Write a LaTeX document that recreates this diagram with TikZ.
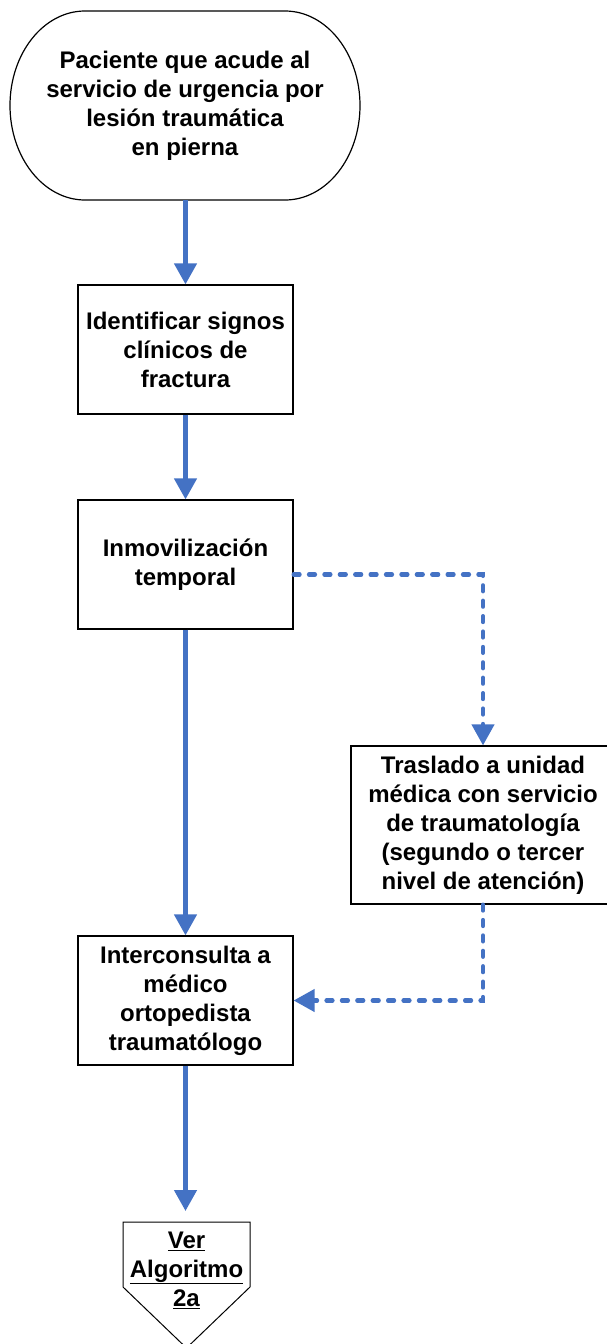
\documentclass[tikz,border=0pt]{standalone}
\usepackage{fontspec}
\setmainfont{Liberation Sans}
\usetikzlibrary{arrows.meta}
\definecolor{flowblue}{RGB}{68,114,196}
\begin{document}
\begin{tikzpicture}[x=1pt,y=-1pt,
  txt/.style={inner sep=0pt, font=\bfseries\fontsize{24}{29}\selectfont, align=center},
  box/.style={txt, draw=black, line width=1.2pt, rectangle},
  solidarrow/.style={draw=flowblue, line width=4.5pt, -{Triangle[width=22pt,length=21pt]}},
  dasharrow/.style={draw=flowblue, line width=4.2pt, line cap=round, dash pattern=on 6pt off 9.4pt, -{Triangle[width=22pt,length=21pt]}}]
\useasboundingbox (0,0) rectangle (606,1344);
% terminal
\draw[line width=1.2pt] (85,11) -- (285,11) arc[start angle=90,end angle=-90,x radius=75,y radius=-94.5] -- (85,200) arc[start angle=270,end angle=90,x radius=75,y radius=-94.5] -- cycle;
\node[txt, minimum width=351pt, minimum height=189pt] (t) at (185,105.5) {Paciente que acude al\\servicio de urgencia por\\lesión traumática\\en pierna};
% boxes
\node[box, minimum width=215pt, minimum height=129pt] (b2) at (185.5,349.5) {Identificar signos\\clínicos de\\fractura};
\node[box, minimum width=215pt, minimum height=129pt] (b3) at (185.5,564.5) {Inmovilización\\temporal};
\node[box, minimum width=264pt, minimum height=158pt] (b4) at (483,825) {Traslado a unidad\\médica con servicio\\de traumatología\\(segundo o tercer\\nivel de atención)};
\node[box, minimum width=215pt, minimum height=129pt] (b5) at (185.5,1000.5) {Interconsulta a\\médico\\ortopedista\\traumatólogo};
% off-page connector
\draw[line width=1pt] (123,1222) -- (250,1222) -- (250,1287) -- (186.5,1348) -- (123,1287) -- cycle;
\node[txt] (r) at (186.5,1270) {\underline{Ver}\\\underline{Algoritmo}\\\underline{2a}};
\coordinate (rtop) at (185.5,1211);
% connectors
\draw[solidarrow] (t.south -| b2.north) -- (b2.north);
\draw[solidarrow] (b2.south) -- (b3.north);
\draw[solidarrow] (b3.south) -- (b5.north);
\draw[solidarrow] (b5.south) -- (rtop);
\draw[dasharrow] ([yshift=-10pt]b3.east) -| (b4.north);
\draw[dasharrow] (b4.south) |- (b5.east);
\end{tikzpicture}
\end{document}
